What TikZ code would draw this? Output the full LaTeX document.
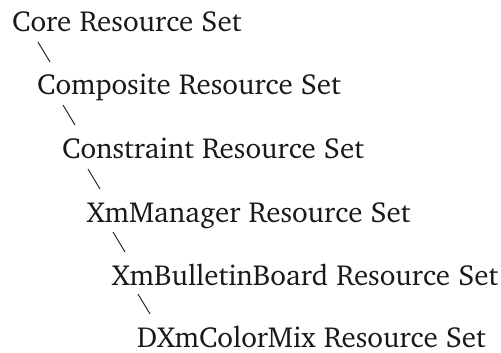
\documentclass[tikz,border=0pt]{standalone}
\usepackage[T1]{fontenc}
\usepackage{charter}
\usepackage{tikz}
\usetikzlibrary{calc}

\begin{document}
\begin{tikzpicture}[x=1pt, y=-1pt,
    every node/.style={anchor=base west, inner sep=0pt, font=\fontsize{29}{29}\selectfont, text=black!90},
    link/.style={line width=0.9pt, black!90}]
      \useasboundingbox (0, 0) rectangle (501, 353);
      \node(core) at (12, 32) {Core Resource Set};
      \node(comp) at (37, 95) {Composite Resource Set};
      \node(cons) at (62, 158) {Constraint Resource Set};
      \node(mgr) at (87, 222) {XmManager Resource Set};
      \node(bb) at (112, 285) {XmBulletinBoard Resource Set};
      \node(mix) at (137, 347) {DXmColorMix Resource Set};
      \draw[link] ($(comp.base west)+(1, -53)$) -- ($(comp.base west)+(13, -33)$);
      \draw[link] ($(cons.base west)+(1, -53)$) -- ($(cons.base west)+(13, -33)$);
      \draw[link] ($(mgr.base west)+(1, -53)$) -- ($(mgr.base west)+(13, -33)$);
      \draw[link] ($(bb.base west)+(1, -53)$) -- ($(bb.base west)+(13, -33)$);
      \draw[link] ($(mix.base west)+(1, -53)$) -- ($(mix.base west)+(13, -33)$);
\end{tikzpicture}
\end{document}
